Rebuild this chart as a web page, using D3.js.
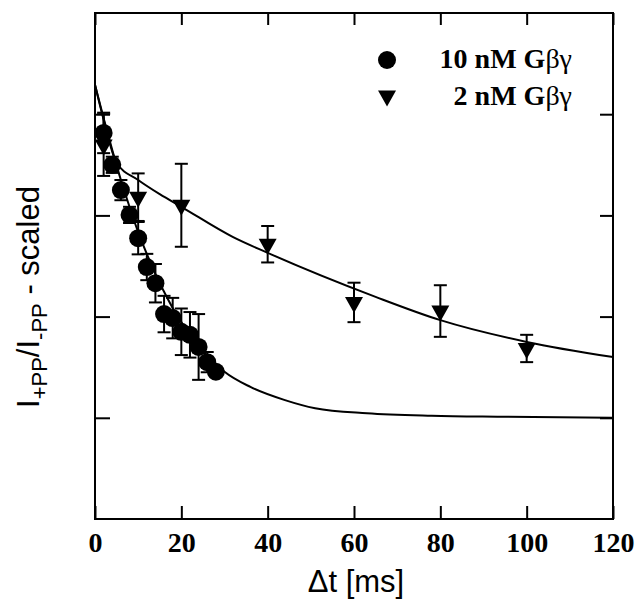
<!DOCTYPE html>
<html>
<head>
<meta charset="utf-8">
<script src="https://cdn.jsdelivr.net/npm/d3@7"></script>
<style>
  body { margin: 0; background: #fff; }
  text { fill: #000; }
</style>
</head>
<body>
<div id="chart"></div>
<script>
// 10 nM Gbg data (time in ms, scaled ratio, error)
const time10 = [2, 4, 6, 8, 10, 12, 14, 16, 18, 20, 22, 24, 26, 28];
const value10 = [0.763, 0.700, 0.650, 0.601, 0.555, 0.498, 0.466, 0.405, 0.397, 0.370, 0.364, 0.340, 0.310, 0.291];
const err10 = [0.040, 0.016, 0.020, 0.016, 0.032, 0.026, 0.038, 0.036, 0.040, 0.046, 0.045, 0.065, 0.020, 0];

// 2 nM Gbg data
const time2 = [2, 10, 20, 40, 60, 80, 100];
const value2 = [0.739, 0.636, 0.620, 0.543, 0.428, 0.411, 0.337];
const err2 = [0.061, 0.047, 0.082, 0.036, 0.039, 0.051, 0.027];

// fit curves
const fitTime10 = [0, 2, 4, 6, 8, 10, 12, 14, 16, 18, 20, 22, 24, 26, 28, 30, 36, 44, 51, 63, 78, 94, 120];
const fitValue10 = [0.858, 0.792, 0.729, 0.670, 0.617, 0.567, 0.524, 0.484, 0.449, 0.417, 0.389, 0.364, 0.342, 0.322, 0.306, 0.291, 0.261, 0.235, 0.219, 0.209, 0.204, 0.202, 0.200];
const fitTime2 = [0, 2, 5, 10, 15, 20, 32, 40, 65, 80, 100, 120];
const fitValue2 = [0.858, 0.789, 0.704, 0.670, 0.642, 0.617, 0.557, 0.526, 0.439, 0.393, 0.350, 0.320];

const xTicks = [0, 20, 40, 60, 80, 100, 120];
const yTicks = [0.2, 0.4, 0.6, 0.8];
const legendLabels = ["10 nM G", "2 nM G"];

const margin = {top: 13, left: 95};
const width = 518, height = 506;

const svg = d3.select("#chart").append("svg")
    .attr("width", 639)
    .attr("height", 608);

const g = svg.append("g")
    .attr("transform", `translate(${margin.left},${margin.top})`);

const x = d3.scaleLinear().domain([0, 120]).range([0, width]);
const y = d3.scaleLinear().domain([0, 1]).range([height, 0]);

// axes, ticks pointing inward
const xAxis = g.append("g")
    .attr("transform", `translate(0,${height})`)
    .call(d3.axisBottom(x).tickValues(xTicks).tickSize(-13).tickPadding(13));
xAxis.selectAll("text")
    .style("font-family", "'Liberation Serif', 'Times New Roman', serif")
    .style("font-weight", "bold")
    .style("font-size", "28px");

g.append("g")
    .call(d3.axisTop(x).tickValues(xTicks).tickSize(-12).tickFormat(""));
g.append("g")
    .call(d3.axisLeft(y).tickValues(yTicks).tickSize(-15).tickFormat(""));
g.append("g")
    .attr("transform", `translate(${width},0)`)
    .call(d3.axisRight(y).tickValues(yTicks).tickSize(-13).tickFormat(""));

g.selectAll(".domain").remove();
g.selectAll(".tick line").attr("stroke", "#000").attr("stroke-width", 2);

g.append("rect")
    .attr("width", width).attr("height", height)
    .attr("fill", "none")
    .attr("stroke", "#000")
    .attr("stroke-width", 2);

// fit lines
const line = d3.line()
    .x(d => x(d[0]))
    .y(d => y(d[1]))
    .curve(d3.curveMonotoneX);

g.append("path")
    .datum(fitTime10.map((t, i) => [t, fitValue10[i]]))
    .attr("d", line)
    .attr("fill", "none").attr("stroke", "#000").attr("stroke-width", 2);
g.append("path")
    .datum(fitTime2.map((t, i) => [t, fitValue2[i]]))
    .attr("d", line)
    .attr("fill", "none").attr("stroke", "#000").attr("stroke-width", 2);

// error bars
function errorBars(times, vals, errs) {
    const data = times.map((t, i) => ({t: t, v: vals[i], e: errs[i]})).filter(d => d.e > 0);
    const eb = g.append("g").attr("stroke", "#000").attr("stroke-width", 2);
    eb.selectAll(".bar").data(data).join("line")
        .attr("x1", d => x(d.t)).attr("x2", d => x(d.t))
        .attr("y1", d => y(d.v - d.e)).attr("y2", d => y(d.v + d.e));
    eb.selectAll(".capTop").data(data).join("line")
        .attr("x1", d => x(d.t) - 6.5).attr("x2", d => x(d.t) + 6.5)
        .attr("y1", d => y(d.v + d.e)).attr("y2", d => y(d.v + d.e));
    eb.selectAll(".capBot").data(data).join("line")
        .attr("x1", d => x(d.t) - 6.5).attr("x2", d => x(d.t) + 6.5)
        .attr("y1", d => y(d.v - d.e)).attr("y2", d => y(d.v - d.e));
}
errorBars(time2, value2, err2);
errorBars(time10, value10, err10);

const triPath = "M-9,-5.5L9,-5.5L0,10.5Z";

g.append("g").selectAll("path")
    .data(time2.map((t, i) => [t, value2[i]]))
    .join("path")
    .attr("d", triPath)
    .attr("transform", d => `translate(${x(d[0])},${y(d[1])})`)
    .attr("fill", "#000");

g.append("g").selectAll("circle")
    .data(time10.map((t, i) => [t, value10[i]]))
    .join("circle")
    .attr("cx", d => x(d[0]))
    .attr("cy", d => y(d[1]))
    .attr("r", 9)
    .attr("fill", "#000");

// legend
const legend = svg.append("g");
legend.append("circle").attr("cx", 387).attr("cy", 60).attr("r", 9).attr("fill", "#000");
legend.append("path").attr("d", triPath).attr("transform", "translate(387,96)").attr("fill", "#000");
const legendText = legend.selectAll("text")
    .data(legendLabels)
    .join("text")
    .attr("x", 572)
    .attr("y", (d, i) => 68 + i * 37)
    .attr("text-anchor", "end")
    .style("font-family", "'Liberation Serif', 'Times New Roman', serif")
    .style("font-weight", "bold")
    .style("font-size", "28px");
legendText.append("tspan").text(d => d);
legendText.append("tspan").style("font-weight", "normal").text("\u03b2\u03b3");

// axis titles
svg.append("text")
    .attr("x", 356)
    .attr("y", 592)
    .attr("text-anchor", "middle")
    .style("font-family", "'Liberation Sans', Arial, sans-serif")
    .style("font-size", "31px")
    .text("\u0394t [ms]");

const yTitle = svg.append("text")
    .attr("transform", "translate(39,297) rotate(-90)")
    .attr("text-anchor", "middle")
    .style("font-family", "'Liberation Sans', Arial, sans-serif")
    .style("font-size", "31px");
yTitle.append("tspan").text("I");
yTitle.append("tspan").attr("dy", 8).style("font-size", "22px").text("+PP");
yTitle.append("tspan").attr("dy", -8).text("/I");
yTitle.append("tspan").attr("dy", 8).style("font-size", "22px").text("-PP");
yTitle.append("tspan").attr("dy", -8).text(" - scaled");
</script>
</body>
</html>
